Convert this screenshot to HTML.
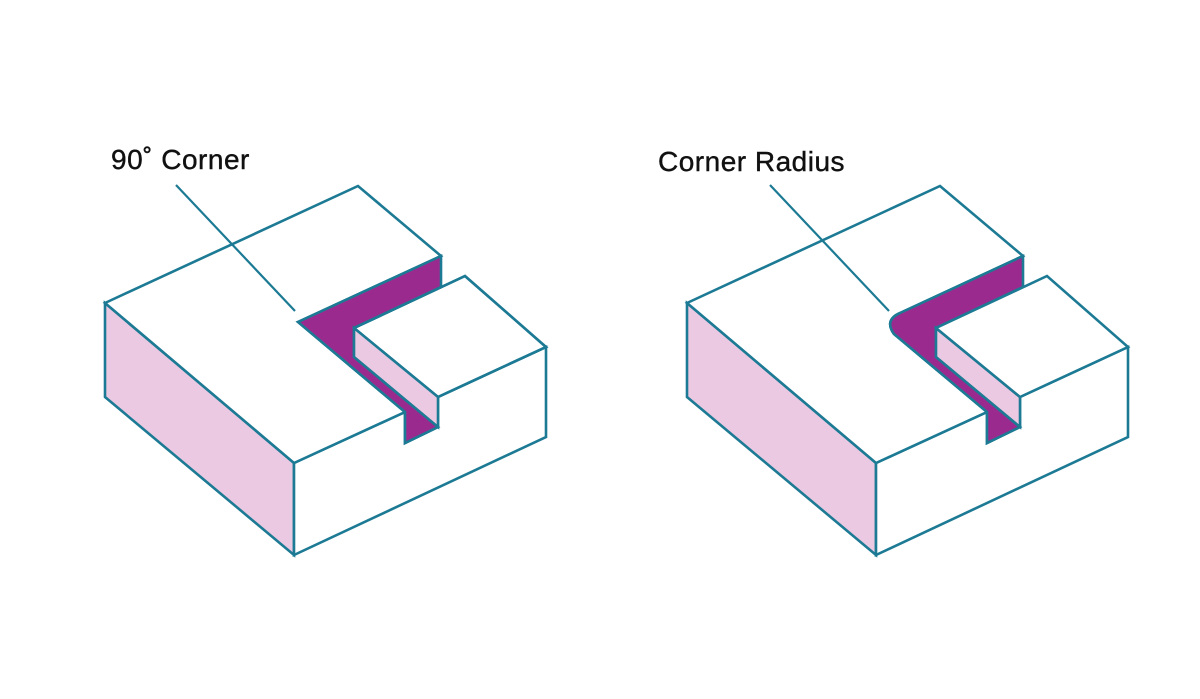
<!DOCTYPE html>
<html><head><meta charset="utf-8"><style>
html,body{margin:0;padding:0;background:#fff;width:1200px;height:699px;overflow:hidden}
svg{display:block}
text{font-family:"Liberation Sans","DejaVu Sans",sans-serif;font-size:28px;fill:#111;letter-spacing:0.5px;stroke:#111;stroke-width:0.4}
</style></head><body>
<svg width="1200" height="699" viewBox="0 0 1200 699" xmlns="http://www.w3.org/2000/svg">
<defs>
<g id="body" stroke="#1c7a94" stroke-width="2.6" stroke-linejoin="miter" fill="none">
  <polygon points="105,303 294,463 294,555 105,397" fill="#ecc9e2"/>
  <polygon points="294,463 405,412 405,443 438,427 438,397 546,347 546,437 294,555" fill="#fff"/>
  <polygon points="105,303 358,186 441,256 298,322 405,412 294,463" fill="#fff"/>
  <polygon points="354,328 465,276 546,347 438,397" fill="#fff"/>
</g>
</defs>

<!-- LEFT -->
<g>
  <use href="#body"/>
  <polygon points="298,322 441,256 441,287 354,328 354,357 438,427 405,443 405,412" fill="#9b2a8f" stroke="#1c7a94" stroke-width="2.6"/>
  <polygon points="354,328 438,397 438,427 354,357" fill="#ecc9e2" stroke="#1c7a94" stroke-width="2.6"/>
  <polyline points="354,328 465,276 546,347 438,397" fill="none" stroke="#1c7a94" stroke-width="2.6"/>
  <line x1="176" y1="185" x2="295" y2="311" stroke="#1c7a94" stroke-width="2.2"/>
  <text x="111" y="169">90˚ Corner</text>
</g>

<!-- RIGHT -->
<g transform="translate(582,0)">
  <polygon points="105,303 294,463 294,555 105,397" fill="#ecc9e2" stroke="#1c7a94" stroke-width="2.6"/>
  <polygon points="294,463 405,412 405,443 438,427 438,397 546,347 546,437 294,555" fill="#fff" stroke="#1c7a94" stroke-width="2.6"/>
  <path d="M105,303 L358,186 L441,256 L318,313 Q302,320 312,334 L405,412 L294,463 Z" fill="#fff" stroke="#1c7a94" stroke-width="2.6" stroke-linejoin="miter"/>
  <path d="M318,313 L441,256 L441,287 L354,328 L354,357 L438,427 L405,443 L405,412 L312,334 Q302,320 318,313 Z" fill="#9b2a8f" stroke="#1c7a94" stroke-width="2.6"/>
  <polygon points="354,328 438,397 438,427 354,357" fill="#ecc9e2" stroke="#1c7a94" stroke-width="2.6"/>
  <polygon points="354,328 465,276 546,347 438,397" fill="#fff" stroke="#1c7a94" stroke-width="2.6"/>
  <line x1="188" y1="185" x2="307" y2="311" stroke="#1c7a94" stroke-width="2.2"/>
  <text x="76" y="171">Corner Radius</text>
</g>
</svg>
</body></html>
